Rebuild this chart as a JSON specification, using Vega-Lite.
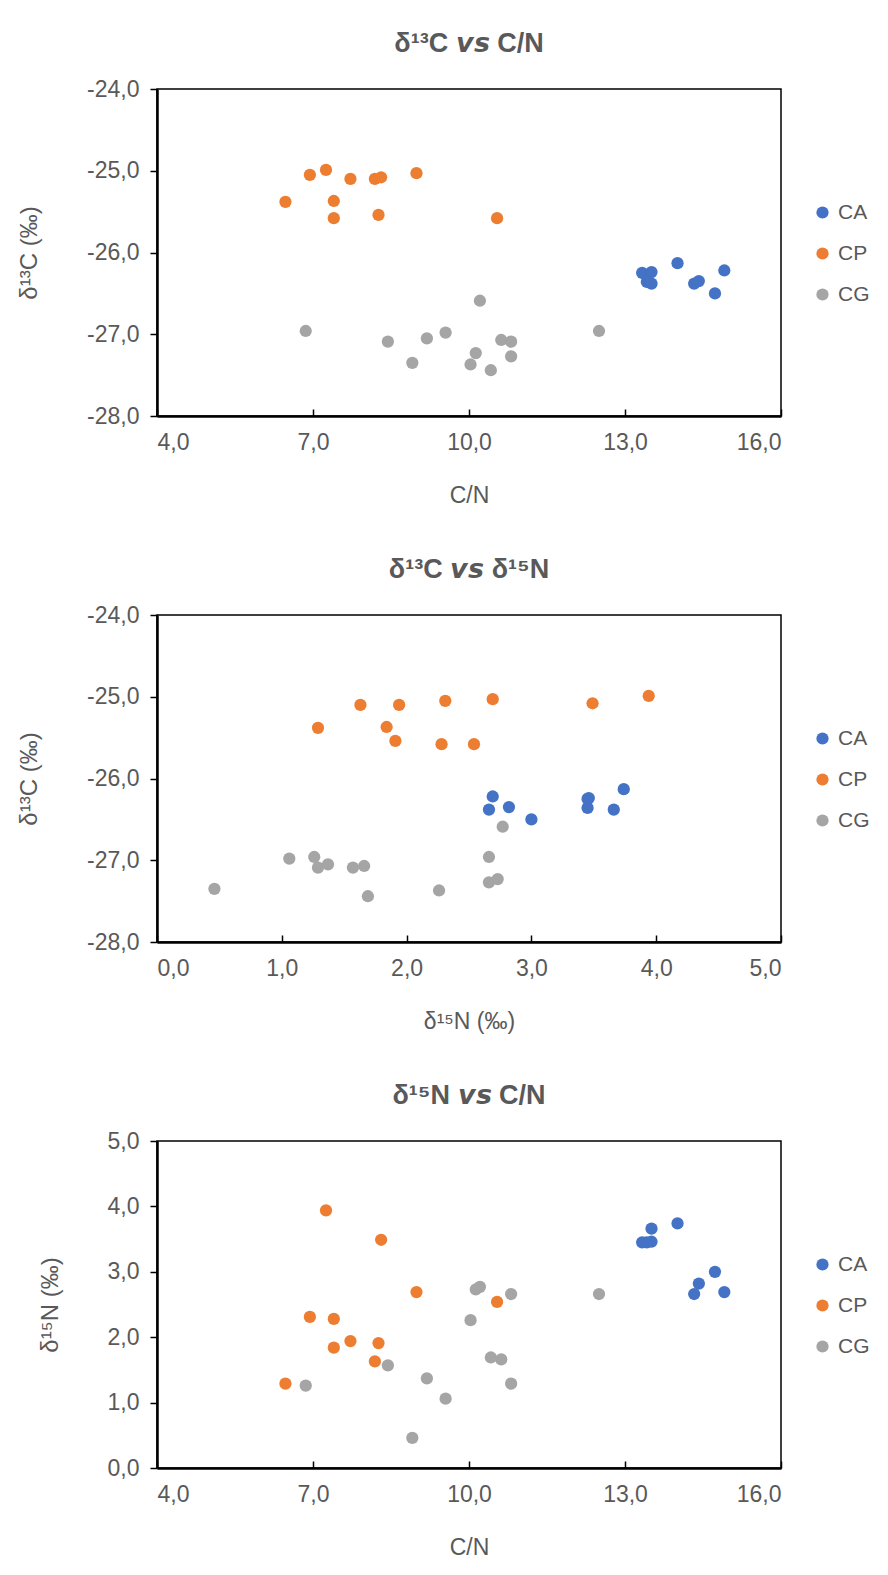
{
  "$schema": "https://vega.github.io/schema/vega-lite/v6.json",
  "padding": {"left": 16, "top": 29, "right": 0, "bottom": 0},
  "background": "white",
  "datasets": {
    "iso": [
      {"group": "CA", "CN": 13.33, "d13C": -26.25, "d15N": 3.45},
      {"group": "CA", "CN": 13.51, "d13C": -26.24, "d15N": 3.46},
      {"group": "CA", "CN": 13.42, "d13C": -26.36, "d15N": 3.45},
      {"group": "CA", "CN": 13.51, "d13C": -26.38, "d15N": 3.66},
      {"group": "CA", "CN": 14.01, "d13C": -26.13, "d15N": 3.74},
      {"group": "CA", "CN": 14.33, "d13C": -26.38, "d15N": 2.66},
      {"group": "CA", "CN": 14.42, "d13C": -26.35, "d15N": 2.82},
      {"group": "CA", "CN": 14.73, "d13C": -26.5, "d15N": 3.0},
      {"group": "CA", "CN": 14.91, "d13C": -26.22, "d15N": 2.69},
      {"group": "CP", "CN": 6.47, "d13C": -25.38, "d15N": 1.29},
      {"group": "CP", "CN": 6.94, "d13C": -25.05, "d15N": 2.31},
      {"group": "CP", "CN": 7.25, "d13C": -24.99, "d15N": 3.94},
      {"group": "CP", "CN": 7.4, "d13C": -25.37, "d15N": 1.84},
      {"group": "CP", "CN": 7.4, "d13C": -25.58, "d15N": 2.28},
      {"group": "CP", "CN": 7.72, "d13C": -25.1, "d15N": 1.94},
      {"group": "CP", "CN": 8.19, "d13C": -25.1, "d15N": 1.63},
      {"group": "CP", "CN": 8.26, "d13C": -25.54, "d15N": 1.91},
      {"group": "CP", "CN": 8.31, "d13C": -25.08, "d15N": 3.49},
      {"group": "CP", "CN": 8.99, "d13C": -25.03, "d15N": 2.69},
      {"group": "CP", "CN": 10.54, "d13C": -25.58, "d15N": 2.54},
      {"group": "CG", "CN": 6.86, "d13C": -26.96, "d15N": 1.26},
      {"group": "CG", "CN": 8.44, "d13C": -27.09, "d15N": 1.57},
      {"group": "CG", "CN": 8.91, "d13C": -27.35, "d15N": 0.46},
      {"group": "CG", "CN": 9.19, "d13C": -27.05, "d15N": 1.37},
      {"group": "CG", "CN": 9.55, "d13C": -26.98, "d15N": 1.06},
      {"group": "CG", "CN": 10.03, "d13C": -27.37, "d15N": 2.26},
      {"group": "CG", "CN": 10.13, "d13C": -27.23, "d15N": 2.73},
      {"group": "CG", "CN": 10.21, "d13C": -26.59, "d15N": 2.77},
      {"group": "CG", "CN": 10.42, "d13C": -27.44, "d15N": 1.69},
      {"group": "CG", "CN": 10.62, "d13C": -27.07, "d15N": 1.66},
      {"group": "CG", "CN": 10.81, "d13C": -27.09, "d15N": 1.29},
      {"group": "CG", "CN": 10.81, "d13C": -27.27, "d15N": 2.66},
      {"group": "CG", "CN": 12.5, "d13C": -26.96, "d15N": 2.66}
    ]
  },
  "spacing": 47,
  "resolve": {"legend": {"color": "independent"}},
  "vconcat": [
    {
      "width": 624, "height": 327,
      "title": {"text": "δ¹³C 𝙫𝙨 C/N"},
      "data": {"name": "iso"},
      "mark": {"type": "circle", "size": 150, "opacity": 1},
      "encoding": {
        "x": {"field": "CN", "type": "quantitative", "scale": {"domain": [4, 16], "zero": false, "nice": false},
              "axis": {"values": [4, 7, 10, 13, 16], "title": "C/N", "labelExpr": "replace(replace(format(datum.value, '.1f'), '.', ','), '−', '-')"}},
        "y": {"field": "d13C", "type": "quantitative", "scale": {"domain": [-28, -24], "zero": false, "nice": false},
              "axis": {"values": [-28, -27, -26, -25, -24], "title": "δ¹³C (‰)", "labelExpr": "replace(replace(format(datum.value, '.1f'), '.', ','), '−', '-')"}},
        "color": {"field": "group", "type": "nominal", "sort": ["CA", "CP", "CG"],
                  "scale": {"domain": ["CA", "CP", "CG"], "range": ["#4472C4", "#ED7D31", "#A5A5A5"]},
                  "legend": {"title": null, "orient": "none", "legendX": 655, "legendY": 113}}
      }
    },
    {
      "width": 624, "height": 327,
      "title": {"text": "δ¹³C 𝙫𝙨 δ¹⁵N"},
      "data": {"name": "iso"},
      "mark": {"type": "circle", "size": 150, "opacity": 1},
      "encoding": {
        "x": {"field": "d15N", "type": "quantitative", "scale": {"domain": [0, 5], "zero": false, "nice": false},
              "axis": {"values": [0, 1, 2, 3, 4, 5], "title": "δ¹⁵N (‰)", "labelExpr": "replace(replace(format(datum.value, '.1f'), '.', ','), '−', '-')"}},
        "y": {"field": "d13C", "type": "quantitative", "scale": {"domain": [-28, -24], "zero": false, "nice": false},
              "axis": {"values": [-28, -27, -26, -25, -24], "title": "δ¹³C (‰)", "labelExpr": "replace(replace(format(datum.value, '.1f'), '.', ','), '−', '-')"}},
        "color": {"field": "group", "type": "nominal", "sort": ["CA", "CP", "CG"],
                  "scale": {"domain": ["CA", "CP", "CG"], "range": ["#4472C4", "#ED7D31", "#A5A5A5"]},
                  "legend": {"title": null, "orient": "none", "legendX": 655, "legendY": 113}}
      }
    },
    {
      "width": 624, "height": 327,
      "title": {"text": "δ¹⁵N 𝙫𝙨 C/N"},
      "data": {"name": "iso"},
      "mark": {"type": "circle", "size": 150, "opacity": 1},
      "encoding": {
        "x": {"field": "CN", "type": "quantitative", "scale": {"domain": [4, 16], "zero": false, "nice": false},
              "axis": {"values": [4, 7, 10, 13, 16], "title": "C/N", "labelExpr": "replace(replace(format(datum.value, '.1f'), '.', ','), '−', '-')"}},
        "y": {"field": "d15N", "type": "quantitative", "scale": {"domain": [0, 5], "zero": false, "nice": false},
              "axis": {"values": [0, 1, 2, 3, 4, 5], "title": "δ¹⁵N (‰)", "labelExpr": "replace(replace(format(datum.value, '.1f'), '.', ','), '−', '-')"}},
        "color": {"field": "group", "type": "nominal", "sort": ["CA", "CP", "CG"],
                  "scale": {"domain": ["CA", "CP", "CG"], "range": ["#4472C4", "#ED7D31", "#A5A5A5"]},
                  "legend": {"title": null, "orient": "none", "legendX": 655, "legendY": 113}}
      }
    }
  ],
  "config": {
    "font": "Liberation Sans",
    "view": {"stroke": "#000", "strokeWidth": 1.5},
    "axis": {"grid": false, "domainColor": "#000", "domainWidth": 2.5, "tickColor": "#000", "tickWidth": 1.5,
             "labelFontSize": 23, "labelColor": "#595959", "titleFontSize": 23, "titleColor": "#595959", "titleFontWeight": "normal"},
    "axisY": {"tickSize": 7, "labelPadding": 11, "titlePadding": 45, "titleFontSize": 24},
    "axisX": {"tickSize": -7, "labelPadding": 22, "titlePadding": 30},
    "title": {"fontSize": 27, "fontWeight": "bold", "color": "#595959", "offset": 20},
    "legend": {"symbolType": "circle", "symbolSize": 150, "symbolOpacity": 1, "labelFontSize": 21, "labelColor": "#595959", "rowPadding": 19, "labelOffset": 5}
  }
}
